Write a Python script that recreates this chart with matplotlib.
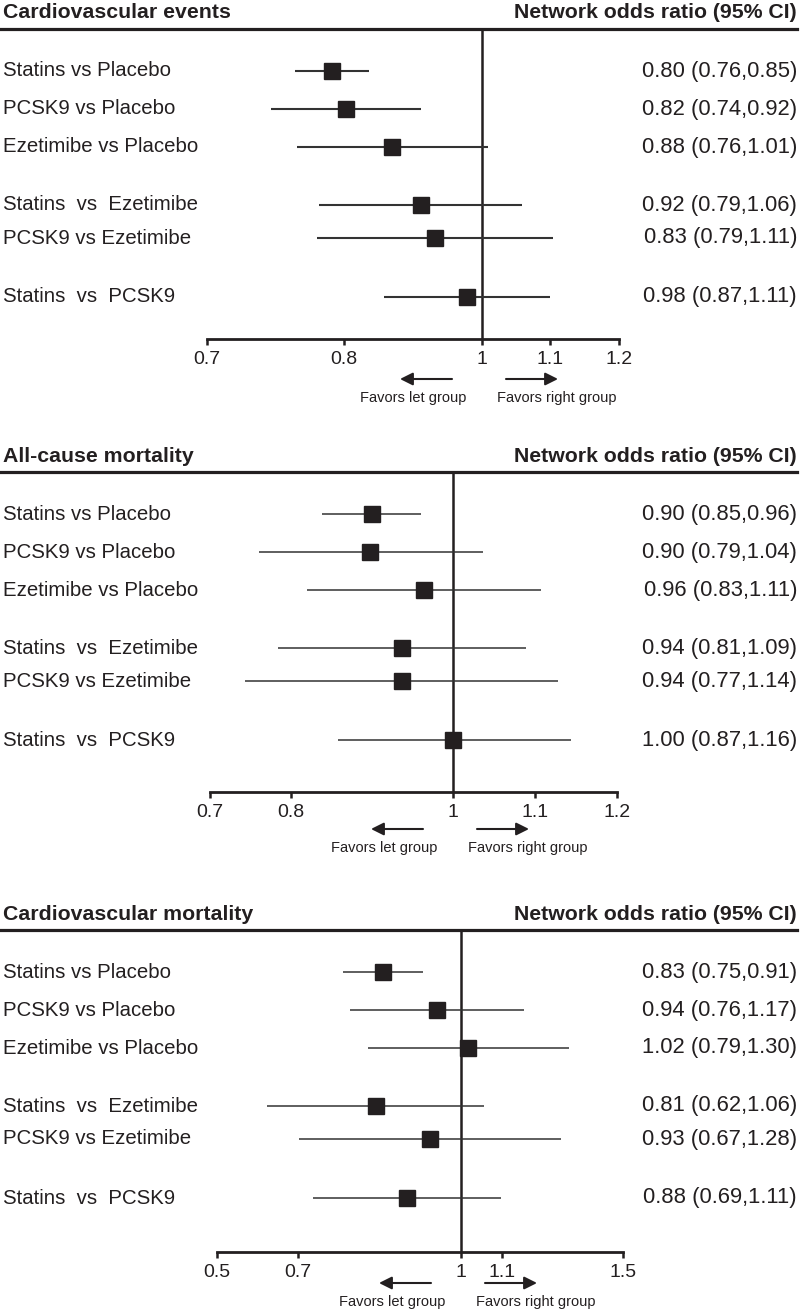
import numpy as np
import matplotlib
matplotlib.use('Agg')
import matplotlib.pyplot as plt
from matplotlib.transforms import blended_transform_factory, offset_copy

plt.rcParams['font.family'] = ['Liberation Sans', 'DejaVu Sans']

# ---- data ----
comparisons = ['Statins vs Placebo', 'PCSK9 vs Placebo', 'Ezetimibe vs Placebo',
               'Statins  vs  Ezetimibe', 'PCSK9 vs Ezetimibe', 'Statins  vs  PCSK9']

# Cardiovascular events
cve_est = [0.791, 0.803, 0.870, 0.912, 0.932, 0.978]
cve_lo = [0.764, 0.747, 0.766, 0.782, 0.780, 0.858]
cve_hi = [0.836, 0.912, 1.009, 1.059, 1.104, 1.100]
cve_text = ['0.80 (0.76,0.85)', '0.82 (0.74,0.92)', '0.88 (0.76,1.01)',
            '0.92 (0.79,1.06)', '0.83 (0.79,1.11)', '0.98 (0.87,1.11)']
cve_ticks = [0.7, 0.8, 1.0, 1.1, 1.2]
cve_ticklabels = ['0.7', '0.8', '1', '1.1', '1.2']

# All-cause mortality
acm_est = [0.900, 0.898, 0.964, 0.937, 0.937, 1.000]
acm_lo = [0.838, 0.760, 0.820, 0.784, 0.743, 0.858]
acm_hi = [0.960, 1.037, 1.107, 1.089, 1.128, 1.144]
acm_text = ['0.90 (0.85,0.96)', '0.90 (0.79,1.04)', '0.96 (0.83,1.11)',
            '0.94 (0.81,1.09)', '0.94 (0.77,1.14)', '1.00 (0.87,1.16)']
acm_ticks = [0.7, 0.8, 1.0, 1.1, 1.2]
acm_ticklabels = ['0.7', '0.8', '1', '1.1', '1.2']

# Cardiovascular mortality
cvm_est = [0.856, 0.956, 1.017, 0.844, 0.943, 0.901]
cvm_lo = [0.783, 0.796, 0.829, 0.623, 0.702, 0.728]
cvm_hi = [0.930, 1.173, 1.322, 1.056, 1.295, 1.098]
cvm_text = ['0.83 (0.75,0.91)', '0.94 (0.76,1.17)', '1.02 (0.79,1.30)',
            '0.81 (0.62,1.06)', '0.93 (0.67,1.28)', '0.88 (0.69,1.11)']
cvm_ticks = [0.5, 0.7, 1.0, 1.1, 1.5]
cvm_ticklabels = ['0.5', '0.7', '1', '1.1', '1.5']

# ---- layout ----
W, H = 800, 1311
INK = '#231f20'
ROW_Y = [42, 80, 118, 176, 209, 268]   # row slots, px below the top rule

fig = plt.figure(figsize=(W / 100, H / 100), dpi=100)


def draw_panel(title, est, lo, hi, texts, ticks, ticklabels, tick_px,
               rule_y, axis_y, ci_lw, arrow_dy, text_dy):
    x0, x1 = tick_px[0], tick_px[-1]
    ax = fig.add_axes([x0 / W, 1 - axis_y / H, (x1 - x0) / W, (axis_y - rule_y) / H])

    # the original axis is not evenly spaced: piecewise scale through the ticks
    frac = (np.array(tick_px, float) - x0) / (x1 - x0)
    tv = np.array(ticks, float)
    ax.set_xscale('function', functions=(lambda v: np.interp(v, tv, frac),
                                         lambda p: np.interp(p, frac, tv)))
    ax.set_xlim(ticks[0], ticks[-1])
    ax.set_ylim(axis_y - rule_y, 0)

    ax.axvline(1, color=INK, lw=1.8, zorder=1)
    ax.hlines(ROW_Y, lo, hi, color='#333333', lw=ci_lw, zorder=2)
    ax.plot(est, ROW_Y, 's', color=INK, ms=11.3, zorder=3)

    ax.set_xticks(ticks)
    ax.set_xticklabels(ticklabels)
    ax.tick_params(axis='x', direction='out', length=4.5, width=1.8,
                   labelsize=14, pad=4, colors=INK)
    ax.set_yticks([])
    for s in ['top', 'left', 'right']:
        ax.spines[s].set_visible(False)
    ax.spines['bottom'].set_linewidth(2)
    ax.spines['bottom'].set_color(INK)

    # row labels and estimates
    tr = blended_transform_factory(fig.transFigure, ax.transData)
    for y, name, txt in zip(ROW_Y, comparisons, texts):
        ax.text(3 / W, y, name, transform=tr, va='center', ha='left',
                fontsize=14.7, color=INK)
        ax.text(797 / W, y, txt, transform=tr, va='center', ha='right',
                fontsize=15.8, color=INK)

    # header + rule
    hy = 1 - (rule_y - 16) / H
    fig.text(3 / W, hy, title, fontsize=15.3, fontweight='bold', va='center', color=INK)
    fig.text(797 / W, hy, 'Network odds ratio (95% CI)', fontsize=15.3,
             fontweight='bold', va='center', ha='right', color=INK)
    rt = blended_transform_factory(fig.transFigure, ax.transAxes)
    ax.plot([0, 797 / W], [1, 1], transform=rt, color=INK, lw=2.3, clip_on=False)

    # favors arrows
    base = blended_transform_factory(ax.transData, ax.transAxes)

    def off(dx, dy):
        return offset_copy(base, fig=fig, x=dx, y=dy, units='dots')

    ap = dict(arrowstyle='-|>', color=INK, lw=1.5, mutation_scale=19,
              shrinkA=0, shrinkB=0)
    ax.annotate('', xy=(1, 0), xycoords=off(-82, -arrow_dy),
                xytext=(1, 0), textcoords=off(-30, -arrow_dy),
                arrowprops=ap, annotation_clip=False)
    ax.annotate('', xy=(1, 0), xycoords=off(76, -arrow_dy),
                xytext=(1, 0), textcoords=off(24, -arrow_dy),
                arrowprops=ap, annotation_clip=False)
    ax.text(1, 0, 'Favors let group', transform=off(-69, -text_dy),
            ha='center', va='center', fontsize=10.5, color=INK)
    ax.text(1, 0, 'Favors right group', transform=off(75, -text_dy),
            ha='center', va='center', fontsize=10.5, color=INK)
    return ax


draw_panel('Cardiovascular events', cve_est, cve_lo, cve_hi, cve_text,
           cve_ticks, cve_ticklabels, [207, 344, 482, 550, 619],
           rule_y=29, axis_y=339, ci_lw=1.5, arrow_dy=40, text_dy=59)
draw_panel('All-cause mortality', acm_est, acm_lo, acm_hi, acm_text,
           acm_ticks, acm_ticklabels, [210, 291, 453, 535, 617],
           rule_y=472, axis_y=792, ci_lw=1.1, arrow_dy=37, text_dy=56)
draw_panel('Cardiovascular mortality', cvm_est, cvm_lo, cvm_hi, cvm_text,
           cvm_ticks, cvm_ticklabels, [217, 298, 461, 502, 623],
           rule_y=930, axis_y=1252, ci_lw=1.1, arrow_dy=31, text_dy=50)

fig.savefig('out.png', dpi=100)
